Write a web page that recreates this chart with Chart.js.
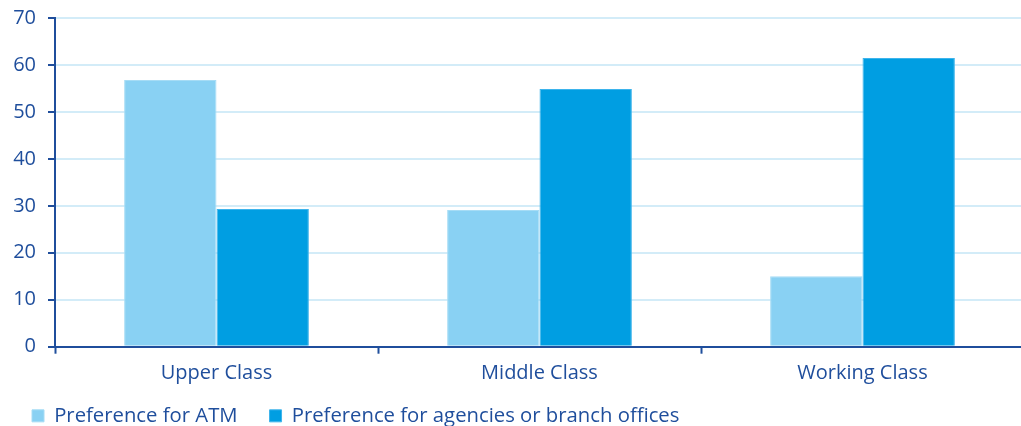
<!DOCTYPE html>
<html>
<head>
<meta charset="utf-8">
<script src="https://cdn.jsdelivr.net/npm/chart.js@4/dist/chart.umd.min.js"></script>
<style>
  html, body { margin: 0; padding: 0; background: #ffffff; overflow: hidden; }
  #frame { position: relative; width: 1021px; height: 426px; overflow: hidden; }
  #wrap { position: relative; width: 1024px; height: 426px; }
</style>
</head>
<body>
<div id="frame"><div id="wrap"><canvas id="chart"></canvas></div></div>
<script>
// Survey results by social class (percent)
const categories = ['Upper Class', 'Middle Class', 'Working Class'];
const seriesNames = ['Preference for ATM', 'Preference for agencies or branch offices'];
const atmPreference = [56.8, 29.1, 15.0];
const branchPreference = [29.3, 54.9, 61.5];
const yTickValues = [0, 10, 20, 30, 40, 50, 60, 70];

const INK = '#1f4e9c';
const FONT = "'Open Sans', 'Noto Sans', sans-serif";

// Pulls the legend row up closer to the category labels while keeping
// the wide spacing between legend entries.
const legendLift = {
  id: 'legendLift',
  afterLayout(chart) {
    const lg = chart.legend;
    if (lg) { lg.top -= 11; lg.bottom -= 11; }
  }
};

new Chart(document.getElementById('chart'), {
  type: 'bar',
  data: {
    labels: categories,
    datasets: [
      {
        label: seriesNames[0],
        data: atmPreference,
        backgroundColor: '#89d1f3',
        borderColor: '#a6dcf5',
        borderWidth: 1,
        categoryPercentage: 0.572,
        barPercentage: 1.0
      },
      {
        label: seriesNames[1],
        data: branchPreference,
        backgroundColor: '#009ee2',
        borderColor: '#3db4ec',
        borderWidth: 1,
        categoryPercentage: 0.572,
        barPercentage: 1.0
      }
    ]
  },
  plugins: [legendLift],
  options: {
    responsive: true,
    maintainAspectRatio: false,
    animation: false,
    devicePixelRatio: 1,
    layout: { padding: { top: 18, right: 0, bottom: -21, left: 0 } },
    plugins: {
      tooltip: { enabled: false },
      legend: {
        position: 'bottom',
        align: 'start',
        labels: {
          boxWidth: 12,
          boxHeight: 12,
          padding: 32,
          color: INK,
          font: { family: FONT, size: 20.3 }
        }
      }
    },
    scales: {
      x: {
        afterFit: (scale) => { scale.height = 38; },
        border: { display: true, color: INK, width: 2 },
        grid: {
          offset: true,
          drawOnChartArea: false,
          drawTicks: true,
          tickLength: 7,
          tickColor: INK,
          tickWidth: 2
        },
        ticks: {
          color: INK,
          padding: 8,
          font: { family: FONT, size: 20 }
        }
      },
      y: {
        min: yTickValues[0],
        max: yTickValues[yTickValues.length - 1],
        afterFit: (scale) => { scale.width = 55; scale.paddingTop = 0; },
        afterBuildTicks: (scale) => { scale.ticks = yTickValues.map(v => ({ value: v })); },
        border: { display: true, color: INK, width: 2 },
        grid: {
          color: '#d3ecf8',
          lineWidth: 2,
          tickLength: 7,
          tickColor: INK,
          tickWidth: 2
        },
        ticks: {
          color: INK,
          padding: 12,
          font: { family: FONT, size: 20 }
        }
      }
    }
  }
});
</script>
</body>
</html>
